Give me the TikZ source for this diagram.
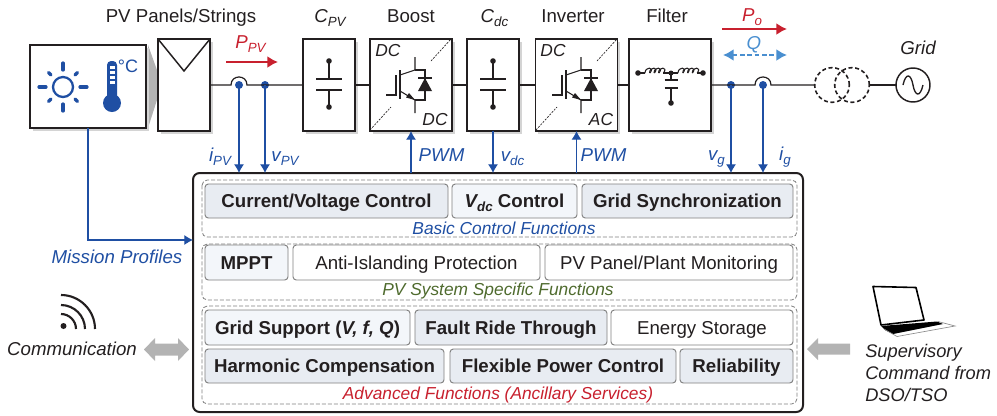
\documentclass[tikz,border=0pt]{standalone}
\usepackage{fontspec}
\setmainfont{Liberation Sans}
\usetikzlibrary{arrows.meta,shadows,calc}
\definecolor{ctrlblue}{HTML}{1F4FA3}
\definecolor{qblue}{HTML}{4A8FD0}
\definecolor{powred}{HTML}{C8202E}
\definecolor{pvgreen}{HTML}{4F6B2E}
\definecolor{inkdark}{HTML}{231F20}
\definecolor{arrowgray}{HTML}{B3B3B3}
\definecolor{shadegray}{HTML}{D4D4D4}
\definecolor{funcdark}{HTML}{E8ECF2}
\definecolor{funclight}{HTML}{F3F6FA}
\newcommand{\fsize}{\fontsize{14}{16}\selectfont}
\newcommand{\subt}[2]{#1\raisebox{-0.22em}{\fontsize{10}{10}\selectfont #2}}
% Condensador: dos placas y dos terminales.
\newcommand{\capsym}[2]{%
  \begin{scope}[shift={(#1,#2)}]
    \draw[symline] (0,-24) -- (0,-6) (0,5) -- (0,22);
    \draw[symline,line width=1.1pt] (-13,-6) -- (13,-6) (-13,5) -- (13,5);
    \fill[inkdark] (0,-24) circle (2.8);
    \fill[inkdark] (0,22) circle (2.8);
  \end{scope}}
% Transistor con su diodo en antiparalelo.
\newcommand{\igbtsym}[2]{%
  \begin{scope}[shift={(#1,#2)}]
    \draw[symline] (-25,10) -- (-15,10) -- (-15,-10);
    \draw[symline] (-11,-15) -- (-11,14);
    \draw[symline] (4,-28) -- (4,-15) -- (-11,-10);
    \draw[symline] (-11,6) -- (4,15) -- (4,28);
    \fill[inkdark] (4,15) -- (-5,12.5) -- (-2,8) -- cycle;
    \draw[symline] (4,-15) -- (14,-15) -- (14,15) -- (4,15);
    \fill[inkdark] (7,6) -- (21,6) -- (14,-7) -- cycle;
    \draw[symline] (7,-7) -- (21,-7);
  \end{scope}}
\tikzset{
  symline/.style={inkdark,line width=0.8pt},
  wire/.style={inkdark,line width=0.9pt},
  stagebox/.style={draw=inkdark,fill=white,line width=1.2pt,inner sep=0pt,outer sep=0pt,
    minimum height=69pt,drop shadow={shadow xshift=2pt,shadow yshift=-2pt,fill=shadegray,opacity=1}},
  toplabel/.style={font=\fsize,text=inkdark,inner sep=0pt,text height=10pt,text depth=0pt},
  senselabel/.style={font=\fsize\itshape,text=ctrlblue,inner sep=0pt,text height=10pt,text depth=0pt},
  grouplabel/.style={font=\fontsize{13}{15}\selectfont\itshape,inner sep=0pt,text height=9.5pt,text depth=0pt},
  sense/.style={ctrlblue,line width=0.8pt,-{Latex[length=6.5pt,width=7.5pt]}},
  dotnode/.style={circle,fill=ctrlblue,inner sep=0pt,outer sep=0pt,minimum size=6pt},
  groupbox/.style={draw=black!50,dash pattern=on 3pt off 1.5pt,line width=0.6pt,rounded corners=4pt},
  funcbox/.style={draw=black!50,line width=0.7pt,rounded corners=2.5pt,inner sep=0pt,outer sep=0pt,
    font=\fsize,text=inkdark,text height=10pt,text depth=0pt},
  fdark/.style={funcbox,fill=funcdark,font=\fsize\bfseries},
  flight/.style={funcbox,fill=funclight,font=\fsize\bfseries},
  fwhite/.style={funcbox,fill=white},
  bigarrow/.style={fill=arrowgray,draw=none}
}
\begin{document}
\begin{tikzpicture}[x=0.75pt,y=-0.75pt,line join=miter]
  \useasboundingbox (0,0) rectangle (997,415);
  % Etapas de potencia
  \fill[arrowgray] (148,45) -- (157,70) -- (157,100) -- (148,128) -- cycle;
  \node[stagebox,minimum width=87pt,minimum height=62.25pt] (sun) at (88,86.5) {};
  \node[stagebox,minimum width=39pt] (panel) at (184,85) {};
  \node[stagebox,minimum width=39pt] (cpv) at (329,85) {};
  \node[stagebox,minimum width=61.5pt] (boost) at (411,85) {};
  \node[stagebox,minimum width=39pt] (cdc) at (493,85) {};
  \node[stagebox,minimum width=61.5pt] (inv) at (576.5,85) {};
  \node[stagebox,minimum width=61.5pt] (filter) at (670,85) {};
  \draw[inkdark,line width=1.1pt] (panel.north west) -- (184,71) -- (panel.north east);

  \node[toplabel] (lblpanel) at (181,15.5) {PV Panels/Strings};
  \node[toplabel,font=\fsize\itshape] (lblcpv) at (330,15.5) {\subt{C}{PV}};
  \node[toplabel] (lblboost) at (411,15.5) {Boost};
  \node[toplabel,font=\fsize\itshape] (lblcdc) at (494.5,15.5) {\subt{C}{dc}};
  \node[toplabel] (lblinv) at (573,15.5) {Inverter};
  \node[toplabel] (lblfilter) at (667,15.5) {Filter};
  \node[toplabel,font=\fsize\itshape] (lblgrid) at (918,48) {Grid};

  % Sol y termometro
  \draw[ctrlblue,line width=1.7pt] (63,87) circle (10);
  \foreach \ang in {0,90,180,270}
    \draw[ctrlblue,line width=2.4pt,line cap=round] ($(63,87)+(\ang:17)$) -- ($(63,87)+(\ang:24)$);
  \foreach \ang in {45,135,225,315}
    \draw[ctrlblue,line width=2.4pt,line cap=round] ($(63,87)+(\ang:17)$) -- ($(63,87)+(\ang:20.5)$);
  \fill[ctrlblue] (112,103) circle (9);
  \fill[ctrlblue,rounded corners=3pt] (107,61) rectangle (117,100);
  \foreach \yy in {66,71,76,81}
    \fill[white] (110,\yy) rectangle (114.5,\yy+3);
  \node[inner sep=0pt,text=ctrlblue,font=\fontsize{13.5}{14}\selectfont] (degc) at (128,66) {°C};

  % Linea principal
  \node[dotnode] (ipv) at (239,85) {};
  \node[dotnode] (vpv) at (265,85) {};
  \node[dotnode] (vg) at (731,85) {};
  \node[dotnode] (ig) at (763,85) {};
  \node[draw=inkdark,dashed,dash pattern=on 3pt off 2pt,circle,line width=1.2pt,minimum size=26pt,inner sep=0pt,outer sep=0pt] (tra) at (832,85) {};
  \node[draw=inkdark,dashed,dash pattern=on 3pt off 2pt,circle,line width=1.2pt,minimum size=26pt,inner sep=0pt,outer sep=0pt] (trb) at (852,85) {};
  \node[draw=inkdark,circle,line width=1.1pt,minimum size=25.5pt,inner sep=0pt,outer sep=0pt] (grid) at (913,85) {};
  \draw[inkdark,line width=1pt] (903,85) .. controls (906,72) and (911,74) .. (913,85) .. controls (915,96) and (920,98) .. (923,85);

  \draw[wire] (panel.east) -- ([xshift=-6pt]ipv.center)
    .. controls +(0,-10.7) and +(0,-10.7) .. ([xshift=6pt]ipv.center) -- (cpv.west);
  \draw[wire] (cpv.east) -- (boost.west) (boost.east) -- (cdc.west)
    (cdc.east) -- (inv.west) (inv.east) -- (filter.west);
  \draw[wire] (filter.east) -- ([xshift=-6pt]ig.center)
    .. controls +(0,-10.7) and +(0,-10.7) .. ([xshift=6pt]ig.center) -- (tra.west);
  \draw[wire] (trb.east) -- (grid.west);

  \capsym{329}{85}
  \capsym{493}{85}
  \igbtsym{411}{85}
  \igbtsym{577}{85}
  \foreach \xa in {370,536}{
    \draw[inkdark,dash pattern=on 1.5pt off 1pt,line width=0.5pt] (\xa,130) -- (\xa+21,107);
    \draw[inkdark,dash pattern=on 1.5pt off 1pt,line width=0.5pt] (\xa+61,61) -- (\xa+81,39);
  }
  \node[senselabel,text=inkdark,font=\fontsize{13}{14}\selectfont\itshape] (dca) at (388,50) {DC};
  \node[senselabel,text=inkdark,font=\fontsize{13}{14}\selectfont\itshape] (dcb) at (435,119) {DC};
  \node[senselabel,text=inkdark,font=\fontsize{13}{14}\selectfont\itshape] (dcc) at (553,50) {DC};
  \node[senselabel,text=inkdark,font=\fontsize{13}{14}\selectfont\itshape] (acc) at (601,119) {AC};

  % Filtro LCL
  \fill[inkdark] (638,73) circle (2.8) (703,73) circle (2.8) (671,73) circle (2.5) (671,103) circle (2.8);
  \draw[symline] (638,73) -- (645,73);
  \foreach \xa in {645,649.5,654,658.5}
    \draw[symline] (\xa,73) .. controls +(0,-6.5) and +(5,-6.5) .. (\xa+5,73);
  \draw[symline] (663,73) -- (678,73);
  \foreach \xa in {678,682.75,687.5,692.25}
    \draw[symline] (\xa,73) .. controls +(0,-6.5) and +(5,-6.5) .. (\xa+5,73);
  \draw[symline] (697,73) -- (703,73);
  \draw[symline] (671,73) -- (671,80) (671,88) -- (671,103);
  \draw[symline] (664.5,80) -- (677.5,80) (664.5,88) -- (677.5,88);

  % Flechas de potencia
  \draw[powred,line width=1.5pt,-{Latex[length=8pt,width=9pt]}] (226,62) -- (278,62);
  \node[senselabel,text=powred] (ppv) at (250.5,42) {\subt{P}{PV}};
  \draw[powred,line width=1.5pt,-{Latex[length=8pt,width=9pt]}] (722,29) -- (787,29);
  \node[senselabel,text=powred] (po) at (752,15) {\subt{P}{o}};
  \draw[qblue,line width=1.5pt,dash pattern=on 3.5pt off 2pt,{Latex[length=8pt,width=9pt]}-{Latex[length=8pt,width=9pt]}] (723,55) -- (787,55);
  \node[senselabel,text=qblue] (q) at (754,43) {Q};

  % Bloque de control
  \node[draw=inkdark,fill=white,line width=1.5pt,rounded corners=5pt,minimum width=457.5pt,minimum height=179.25pt,inner sep=0pt,outer sep=0pt] (ctrl) at (498,292.5) {};
  \coordinate (missionend) at (193,240);

  \draw[sense] (ipv.center) -- (ipv.center |- ctrl.north);
  \draw[sense] (vpv.center) -- (vpv.center |- ctrl.north);
  \draw[sense] (vg.center) -- (vg.center |- ctrl.north);
  \draw[sense] (ig.center) -- (ig.center |- ctrl.north);
  \draw[sense] (cdc.south) -- (cdc.south |- ctrl.north);
  \draw[sense] (boost.south |- ctrl.north) -- (boost.south);
  \draw[sense] (inv.south |- ctrl.north) -- (inv.south);
  \draw[sense] (sun.south) |- (missionend);

  \node[senselabel] (lipv) at (220,155) {\subt{i}{PV}};
  \node[senselabel] (lvpv) at (285,155) {\subt{v}{PV}};
  \node[senselabel] (pwma) at (441.5,154.5) {PWM};
  \node[senselabel] (lvdc) at (512.5,155) {\subt{v}{dc}};
  \node[senselabel] (pwmb) at (603.5,154.5) {PWM};
  \node[senselabel] (lvg) at (716.5,154) {\subt{v}{g}};
  \node[senselabel] (lig) at (785,154) {\subt{i}{g}};

  \draw[groupbox] (202,180) rectangle (797,237);
  \draw[groupbox] (202,244) rectangle (797,300);
  \draw[groupbox] (202,306) rectangle (797,404);

  \foreach \nm/\xa/\ya/\xb/\yb/\stl/\txt in {
    cvc/205/184/448/218/fdark/{Current/Voltage Control},
    vdc/452/184/577/218/flight/{\textit{\subt{V}{dc}} Control},
    gsy/582/184/793/218/fdark/{Grid Synchronization},
    mppt/205/245/288/280/flight/{MPPT},
    anti/293/245/540/280/fwhite/{Anti-Islanding Protection},
    mon/545/245/793/280/fwhite/{PV Panel/Plant Monitoring},
    gsu/205/310/410/345/flight/{Grid Support (\textit{V, f, Q})},
    frt/415/310/607/345/fdark/{Fault Ride Through},
    est/611/310/793/345/fwhite/{Energy Storage},
    har/205/349/444/383/fdark/{Harmonic Compensation},
    fpc/450/349/676/383/fdark/{Flexible Power Control},
    rel/680/349/793/383/fdark/{Reliability}}{
    \pgfmathsetmacro{\ww}{(\xb-\xa)*0.75}
    \pgfmathsetmacro{\hh}{(\yb-\ya)*0.75}
    \node[\stl,minimum width=\ww pt,minimum height=\hh pt] (\nm) at ({(\xa+\xb)/2},{(\ya+\yb)/2}) {\txt};
  }
  \node[grouplabel,text=ctrlblue] (lblbasic) at (504,228) {Basic Control Functions};
  \node[grouplabel,text=pvgreen] (lblpv) at (498,289) {PV System Specific Functions};
  \node[grouplabel,text=powred] (lbladv) at (498,393) {Advanced Functions (Ancillary Services)};

  % Entradas externas
  \node[senselabel] (lblmission) at (117,257) {Mission Profiles};
  \node[toplabel,font=\fsize\itshape] (lblcomm) at (72,349) {Communication};
  \fill[inkdark] (63.5,326) circle (3);
  \foreach \rr in {15,24,34}
    \draw[inkdark,line width=1.6pt] (61,329-\rr) .. controls +(0.55*\rr,0) and +(0,-0.55*\rr) .. (61+\rr,329);
  \fill[bigarrow] (144,349.5) -- (155,338) -- (155,343.5) -- (178,343.5) -- (178,338) -- (189,349.5)
    -- (178,361) -- (178,355.5) -- (155,355.5) -- (155,361) -- cycle;
  \fill[bigarrow] (807,349) -- (818,338) -- (818,343.5) -- (850,343.5) -- (850,354.5) -- (818,354.5) -- (818,360) -- cycle;

  % Portatil
  \draw[black,line width=1.2pt,line join=round] (873,286.5) -- (916,287.5) -- (924,320) -- (881,325) -- cycle;
  \fill[black] (881,326) -- (937,321.5) -- (943,324) -- (893,334) -- (885,330) -- cycle;
  \draw[black!45,line width=0.5pt] (884,329) -- (897,336.5) -- (955,326) -- (938,321.5);
  \node[inner sep=0pt,align=left,anchor=north west,text=inkdark,font=\fontsize{13.7}{16.5}\selectfont\itshape] (lblsuper) at (865,344) {Supervisory\\Command from\\DSO/TSO};
\end{tikzpicture}
\end{document}
